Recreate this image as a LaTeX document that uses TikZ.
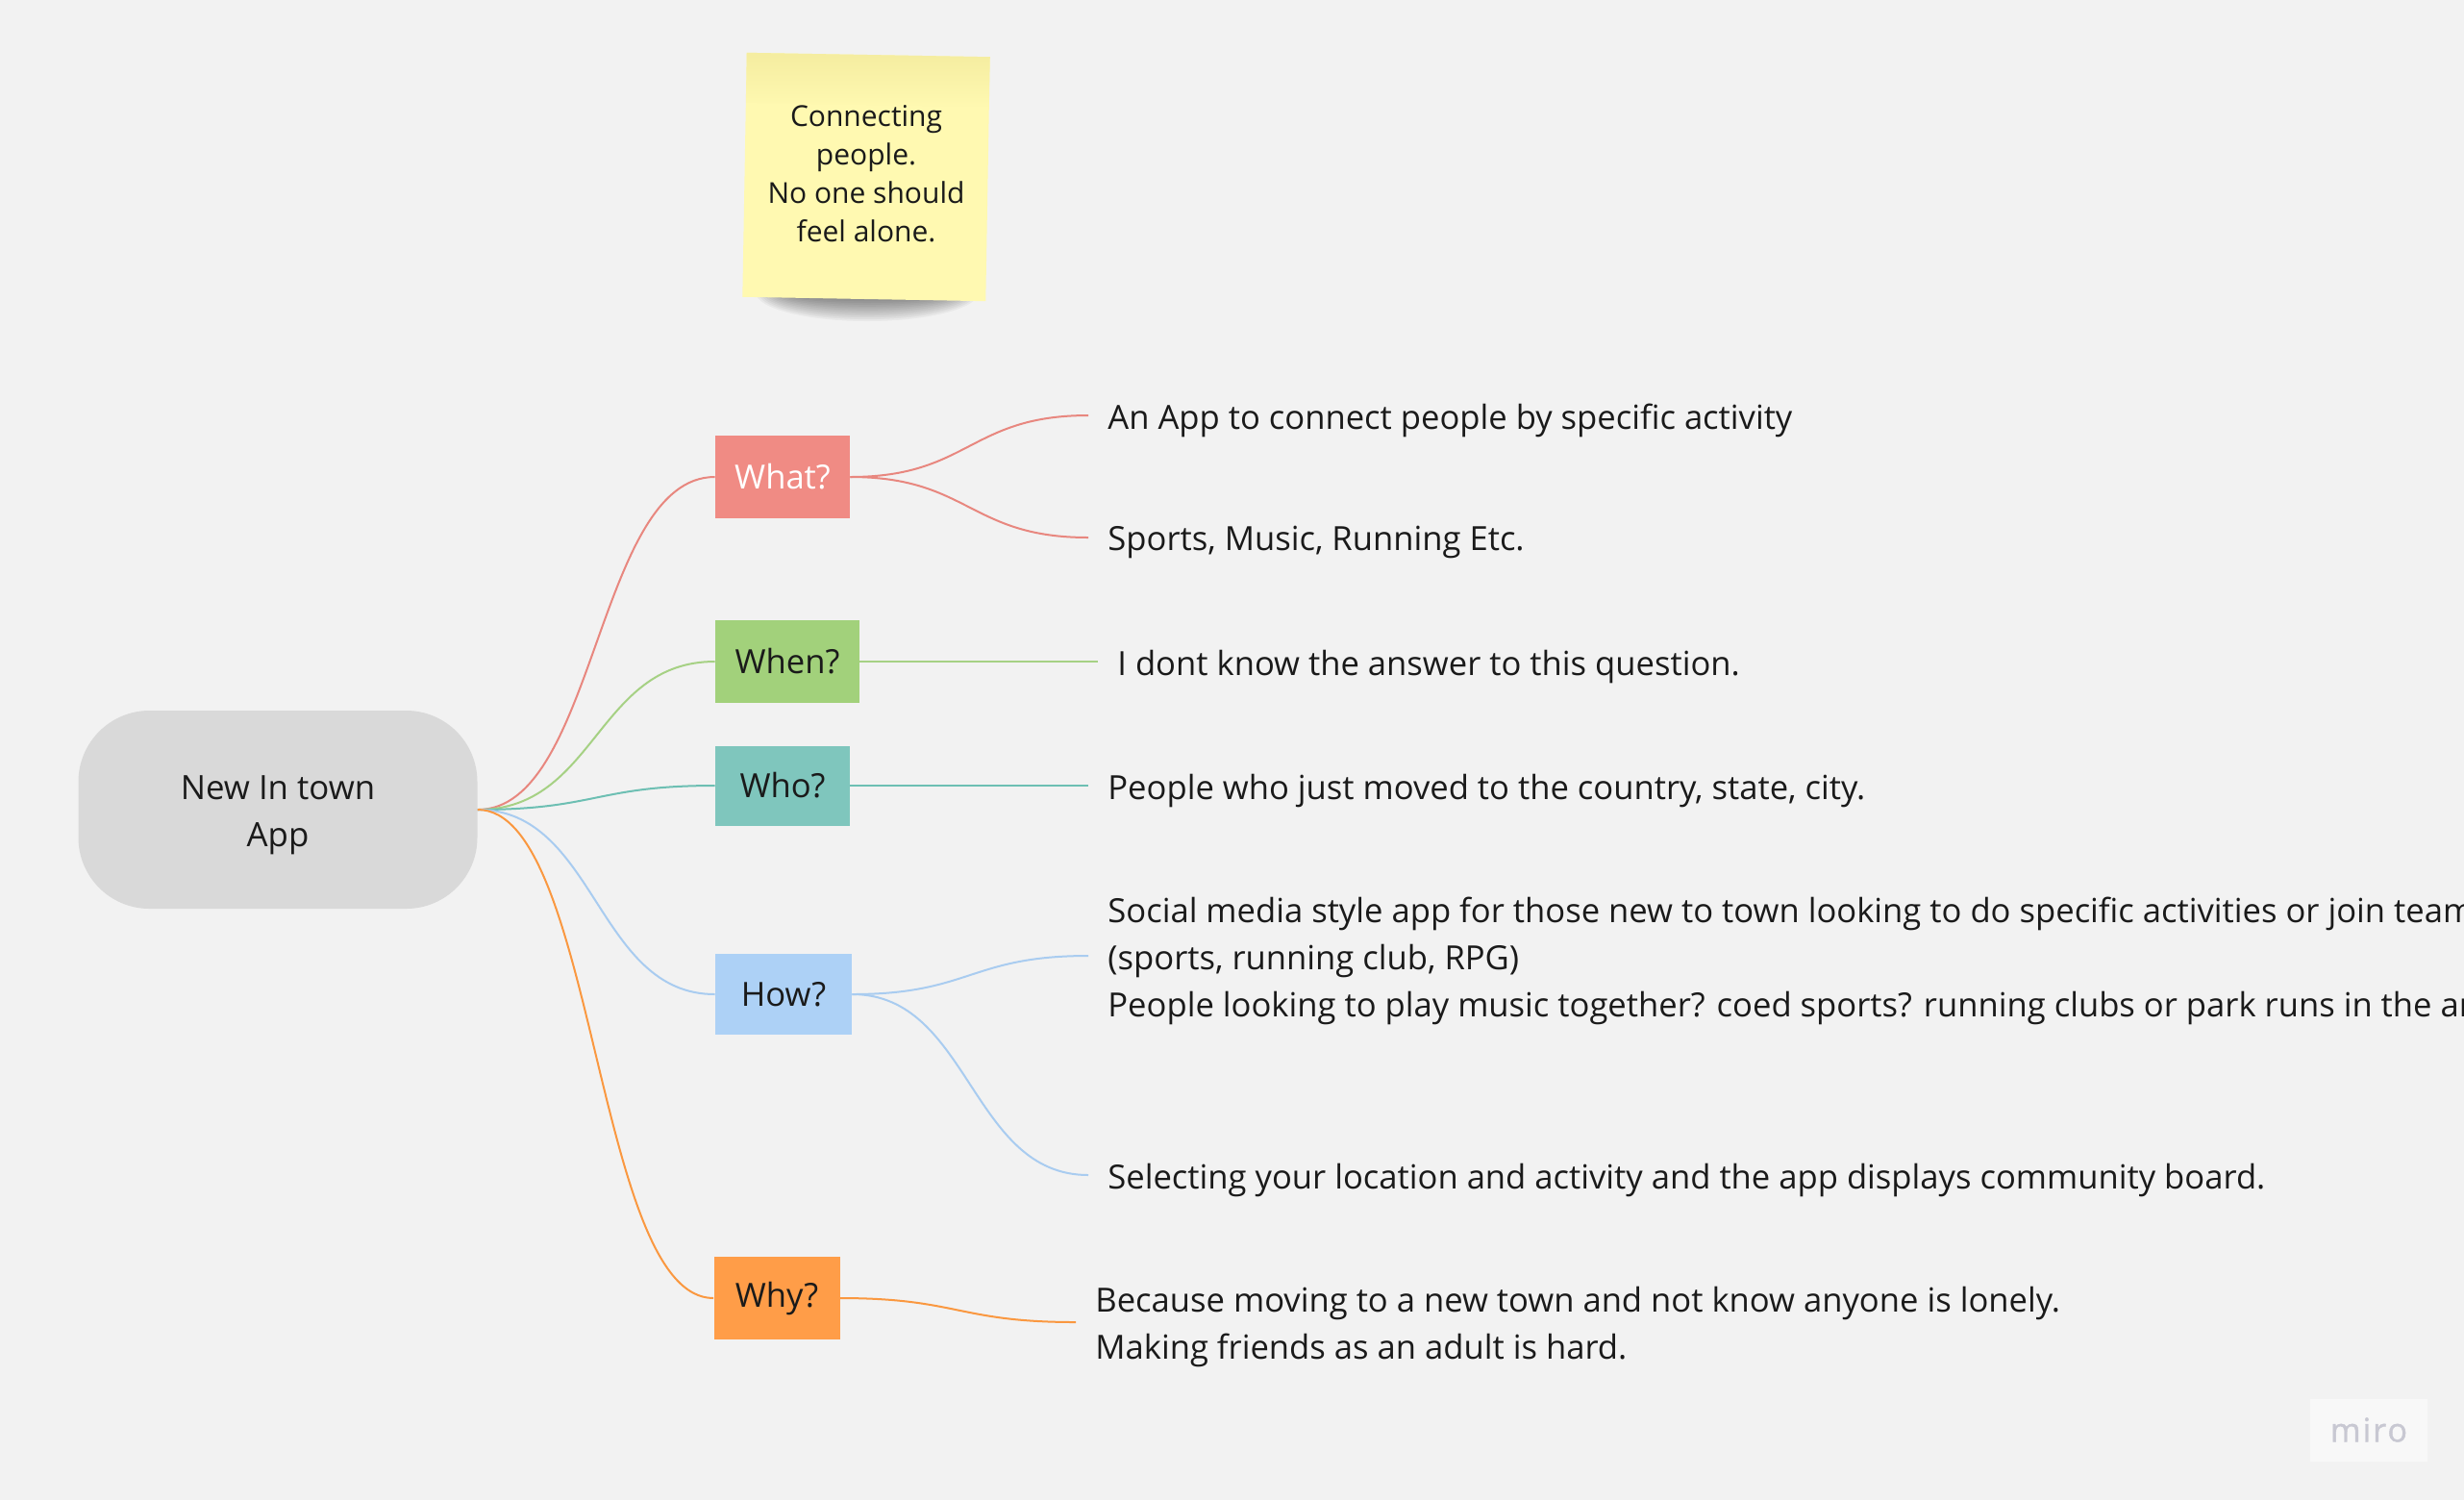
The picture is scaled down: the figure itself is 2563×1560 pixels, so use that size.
\documentclass[tikz,border=0pt]{standalone}
\usepackage{fontspec}
\setmainfont{Open Sans}
\newfontfamily\mirofont{Open Sans}[LetterSpace=6, FakeBold=1.2]
\usetikzlibrary{calc,fadings}
\definecolor{bgc}{HTML}{F2F2F2}
\definecolor{rootc}{HTML}{D9D9D9}
\definecolor{txtc}{HTML}{1A1A1A}
\definecolor{whatc}{HTML}{F08B84}
\definecolor{whenc}{HTML}{A2D17B}
\definecolor{whoc}{HTML}{7FC6BD}
\definecolor{howc}{HTML}{ADD1F6}
\definecolor{whyc}{HTML}{FF9D48}
\definecolor{whatl}{HTML}{E8877F}
\definecolor{whenl}{HTML}{A6D184}
\definecolor{whol}{HTML}{6DBFB3}
\definecolor{howl}{HTML}{A9CCF0}
\definecolor{whyl}{HTML}{FA9840}
\definecolor{stickyc}{HTML}{FFF9B1}
\definecolor{stickytop}{HTML}{F5EDA0}
\definecolor{miroc}{HTML}{C8C8D2}
\tikzset{
  bodyfont/.style={font=\fontsize{17.3pt}{24.5pt}\selectfont, text=txtc},
  branch/.style={bodyfont, rectangle, inner xsep=0pt, minimum height=43pt, inner ysep=0pt},
  leaf/.style={bodyfont, anchor=west, align=left, inner xsep=10pt, inner ysep=0pt},
  hcurve/.style={to path={let \p1=(\tikztostart), \p2=(\tikztotarget) in
     .. controls ({(\x1+\x2)/2},\y1) and ({(\x1+\x2)/2},\y2) .. (\tikztotarget)}},
  conn/.style={line width=1pt, hcurve},
  up/.style={yshift=2.5pt},
}
\begin{document}
\begin{tikzpicture}[x=0.5pt,y=-0.5pt]
\clip (0,0) rectangle (2563,1560);
\fill[bgc] (0,0) rectangle (2563,1560);

% sticky note shadow (stacked soft ellipses)
\foreach \r in {0,...,11} {
  \fill[black, opacity=0.04] (902,304) ellipse [x radius={116-\r*2.6}, y radius={30-\r*1.9}];
}
% sticky note
\node[minimum width=126.5pt, minimum height=127pt, inner sep=0pt, fill=stickyc, rotate=-1] (sticky) at (901,184) {};
\fill[stickytop, path fading=south, rotate around={-1:(sticky.center)}]
  ($(sticky.center)+(-126.5,-127)$) rectangle ($(sticky.center)+(126.5,-75)$);
\node[align=center, font=\fontsize{15pt}{20pt}\selectfont, text=txtc] (stickytext) at (901,181)
  {Connecting\\people.\\No one should\\feel alone.};

% root
\node[fill=rootc, rounded corners=37pt, minimum width=207.5pt, minimum height=103pt,
      inner sep=0pt] (root) at (289,842) {};
\node[bodyfont, font=\fontsize{17.4pt}{24.5pt}\selectfont, align=center, inner sep=0pt] (roottext) at (289,848) {New In town\\App};

% branches
\node[branch, fill=whatc, text=white, minimum width=70pt] (what) at (814,496) {What?};
\node[branch, fill=whenc, minimum width=75pt] (when) at (819,688) {When?};
\node[branch, fill=whoc, minimum width=70pt, minimum height=41.5pt] (who) at (814,817) {Who?};
\node[branch, fill=howc, minimum width=71pt, minimum height=42pt] (how) at (815,1034) {How?};
\node[branch, fill=whyc, minimum width=65.5pt] (why) at (808,1350) {Why?};

% leaves
\node[leaf] (a1) at (1132,437) {An App to connect people by specific activity};
\node[leaf] (a2) at (1132,564) {Sports, Music, Running Etc.};
\node[leaf] (b1) at (1142,693) {I dont know the answer to this question.};
\node[leaf] (c1) at (1132,822) {People who just moved to the country, state, city.};
\node[leaf] (d1) at (1132,999) {Social media style app for those new to town looking to do specific activities or join teams\\(sports, running club, RPG)\\People looking to play music together? coed sports? running clubs or park runs in the area?};
\node[leaf] (d2) at (1132,1227) {Selecting your location and activity and the app displays community board.};
\node[leaf] (e1) at (1119,1380) {Because moving to a new town and not know anyone is lonely.\\Making friends as an adult is hard.};

% root connectors
\draw[conn, whatl] (root.east) to (what.west);
\draw[conn, whenl] (root.east) to (when.west);
\draw[conn, whol] (root.east) to (who.west);
\draw[conn, howl] (root.east) to (how.west);
\draw[conn, whyl] (root.east) to (why.west);

% leaf connectors
\draw[conn, whatl] (what.east) to ([up]a1.west);
\draw[conn, whatl] (what.east) to ([up]a2.west);
\draw[conn, whenl] (when.east) to ([up]b1.west);
\draw[conn, whol] (who.east) to ([up]c1.west);
\draw[conn, howl] (how.east) to ([up]d1.west);
\draw[conn, howl] (how.east) to ([up]d2.west);
\draw[conn, whyl] (why.east) to ([up]e1.west);

% miro logo
\node[fill=white!45!bgc, minimum width=61pt, minimum height=32.5pt, inner sep=0pt,
      text=miroc, font=\mirofont\fontsize{17pt}{20pt}\selectfont] (miro) at (2464,1487) {miro};
\end{tikzpicture}
\end{document}
